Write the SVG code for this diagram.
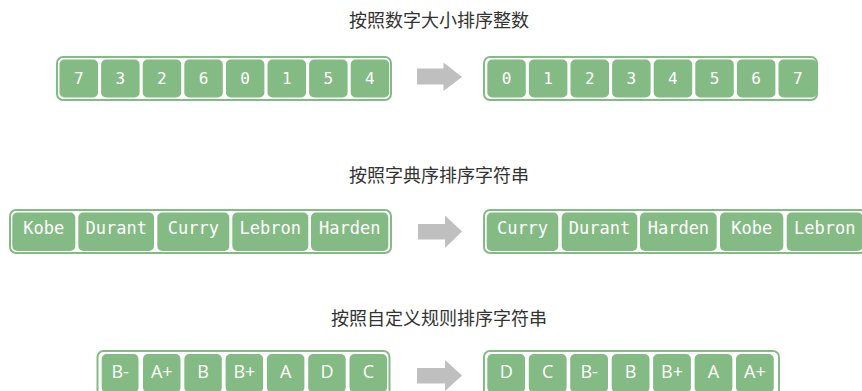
<svg xmlns="http://www.w3.org/2000/svg" width="862" height="391" viewBox="0 0 862 391">
<style>
.bg{fill:#ffffff}
.outer{fill:#ffffff;stroke:#84bb84;stroke-width:2}
.cell{fill:#84bb84}
.mono{font-family:"DejaVu Sans Mono","Liberation Mono",monospace;font-size:16px;fill:#ffffff;text-anchor:middle}
.word{font-size:17px}
.sans{font-family:"Open Sans","Noto Sans",sans-serif;font-size:18px;fill:#ffffff;text-anchor:middle}
.title{font-family:"Noto Sans CJK SC","Noto Sans",sans-serif;font-size:18px;fill:#333333;text-anchor:middle}
.arrow{fill:#bfbfbf}
</style>
<rect class="bg" x="0" y="0" width="862" height="391"/>

<g id="title1"><text class="title" x="439" y="26.5">按照数字大小排序整数</text></g>
<g id="title2"><text class="title" x="439" y="181.5">按照字典序排序字符串</text></g>
<g id="title3"><text class="title" x="439" y="324.5">按照自定义规则排序字符串</text></g>

<g id="connectors">
<polygon class="arrow" points="417,68.5 443.5,68.5 443.5,62.5 462,77 443.5,91 443.5,84.5 417,84.5"/>
<polygon class="arrow" points="418,224 445,224 445,215.5 462,231.5 445,248 445,239.5 418,239.5"/>
<polygon class="arrow" points="417,368 445,368 445,360 462,375.5 445,391 445,383.5 417,383.5"/>
</g>

<g id="row1-unsorted">
<rect class="outer" x="57" y="57" width="334" height="43" rx="6"/>
<rect class="cell" x="59.5" y="59.5" width="38.5" height="38" rx="5"/><text class="mono" x="78.7" y="84.3">7</text>
<rect class="cell" x="101.1" y="59.5" width="38.5" height="38" rx="5"/><text class="mono" x="120.3" y="84.3">3</text>
<rect class="cell" x="142.7" y="59.5" width="38.5" height="38" rx="5"/><text class="mono" x="161.9" y="84.3">2</text>
<rect class="cell" x="184.3" y="59.5" width="38.5" height="38" rx="5"/><text class="mono" x="203.5" y="84.3">6</text>
<rect class="cell" x="225.9" y="59.5" width="38.5" height="38" rx="5"/><text class="mono" x="245.1" y="84.3">0</text>
<rect class="cell" x="267.5" y="59.5" width="38.5" height="38" rx="5"/><text class="mono" x="286.7" y="84.3">1</text>
<rect class="cell" x="309.1" y="59.5" width="38.5" height="38" rx="5"/><text class="mono" x="328.3" y="84.3">5</text>
<rect class="cell" x="350.7" y="59.5" width="38.5" height="38" rx="5"/><text class="mono" x="369.9" y="84.3">4</text>
</g>

<g id="row1-sorted">
<rect class="outer" x="484" y="57" width="333" height="43" rx="6"/>
<rect class="cell" x="487.3" y="59.5" width="38.5" height="38" rx="5"/><text class="mono" x="506.5" y="84.3">0</text>
<rect class="cell" x="528.9" y="59.5" width="38.5" height="38" rx="5"/><text class="mono" x="548.1" y="84.3">1</text>
<rect class="cell" x="570.5" y="59.5" width="38.5" height="38" rx="5"/><text class="mono" x="589.7" y="84.3">2</text>
<rect class="cell" x="612.1" y="59.5" width="38.5" height="38" rx="5"/><text class="mono" x="631.3" y="84.3">3</text>
<rect class="cell" x="653.7" y="59.5" width="38.5" height="38" rx="5"/><text class="mono" x="672.9" y="84.3">4</text>
<rect class="cell" x="695.3" y="59.5" width="38.5" height="38" rx="5"/><text class="mono" x="714.5" y="84.3">5</text>
<rect class="cell" x="736.9" y="59.5" width="38.5" height="38" rx="5"/><text class="mono" x="756.1" y="84.3">6</text>
<rect class="cell" x="778.5" y="59.5" width="38.5" height="38" rx="5"/><text class="mono" x="797.7" y="84.3">7</text>
</g>

<g id="row2-unsorted">
<rect class="outer" x="10" y="210" width="381" height="43" rx="6"/>
<rect class="cell" x="12.3" y="212.5" width="63" height="38.5" rx="5"/><text class="mono word" x="43.8" y="234">Kobe</text>
<rect class="cell" x="78.3" y="212.5" width="75.7" height="38.5" rx="5"/><text class="mono word" x="116.2" y="234">Durant</text>
<rect class="cell" x="157.3" y="212.5" width="72" height="38.5" rx="5"/><text class="mono word" x="193.3" y="234">Curry</text>
<rect class="cell" x="232.3" y="212.5" width="76" height="38.5" rx="5"/><text class="mono word" x="270.3" y="234">Lebron</text>
<rect class="cell" x="311" y="212.5" width="77.3" height="38.5" rx="5"/><text class="mono word" x="349.7" y="234">Harden</text>
</g>

<g id="row2-sorted">
<rect class="outer" x="484" y="210" width="382" height="43" rx="6"/>
<rect class="cell" x="486.7" y="212.5" width="71.6" height="38.5" rx="5"/><text class="mono word" x="522.5" y="234">Curry</text>
<rect class="cell" x="561.7" y="212.5" width="75.6" height="38.5" rx="5"/><text class="mono word" x="599.5" y="234">Durant</text>
<rect class="cell" x="640" y="212.5" width="76.7" height="38.5" rx="5"/><text class="mono word" x="678.4" y="234">Harden</text>
<rect class="cell" x="720" y="212.5" width="63.3" height="38.5" rx="5"/><text class="mono word" x="751.7" y="234">Kobe</text>
<rect class="cell" x="786.7" y="212.5" width="76" height="38.5" rx="5"/><text class="mono word" x="824.7" y="234">Lebron</text>
</g>

<g id="row3-unsorted">
<rect class="outer" x="97.5" y="351" width="292" height="45" rx="6"/>
<rect class="cell" x="101.7" y="354" width="36.8" height="38.5" rx="5"/><text class="sans" x="120.1" y="378">B-</text>
<rect class="cell" x="143" y="354" width="37.5" height="38.5" rx="5"/><text class="sans" x="161.8" y="378">A+</text>
<rect class="cell" x="184.3" y="354" width="37.5" height="38.5" rx="5"/><text class="sans" x="203.1" y="378">B</text>
<rect class="cell" x="225.6" y="354" width="37.5" height="38.5" rx="5"/><text class="sans" x="244.4" y="378">B+</text>
<rect class="cell" x="266.9" y="354" width="37.5" height="38.5" rx="5"/><text class="sans" x="285.7" y="378">A</text>
<rect class="cell" x="308.2" y="354" width="37.5" height="38.5" rx="5"/><text class="sans" x="327" y="378">D</text>
<rect class="cell" x="349.5" y="354" width="37.5" height="38.5" rx="5"/><text class="sans" x="368.3" y="378">C</text>
</g>

<g id="row3-sorted">
<rect class="outer" x="484" y="351" width="295" height="45" rx="6"/>
<rect class="cell" x="487.3" y="354" width="37.8" height="38.5" rx="5"/><text class="sans" x="506.2" y="378">D</text>
<rect class="cell" x="528.8" y="354" width="37.8" height="38.5" rx="5"/><text class="sans" x="547.7" y="378">C</text>
<rect class="cell" x="570.2" y="354" width="37.8" height="38.5" rx="5"/><text class="sans" x="589.1" y="378">B-</text>
<rect class="cell" x="611.7" y="354" width="37.8" height="38.5" rx="5"/><text class="sans" x="630.6" y="378">B</text>
<rect class="cell" x="653.1" y="354" width="37.8" height="38.5" rx="5"/><text class="sans" x="672" y="378">B+</text>
<rect class="cell" x="694.6" y="354" width="37.8" height="38.5" rx="5"/><text class="sans" x="713.5" y="378">A</text>
<rect class="cell" x="736" y="354" width="37.8" height="38.5" rx="5"/><text class="sans" x="754.9" y="378">A+</text>
</g>
</svg>
